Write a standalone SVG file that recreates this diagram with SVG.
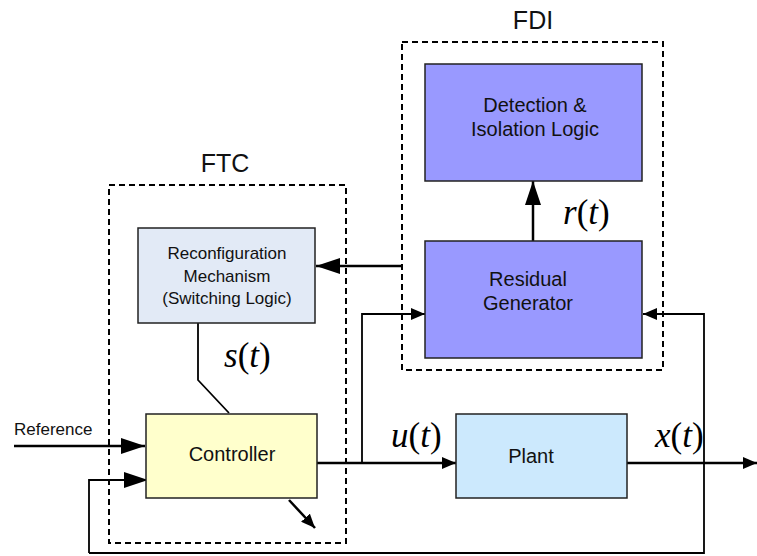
<svg xmlns="http://www.w3.org/2000/svg" width="757" height="556" viewBox="0 0 757 556">
<style>
.box{stroke:#222;stroke-width:1.5}
.dash{fill:none;stroke:#000;stroke-width:2;stroke-dasharray:6,4}
.ln{fill:none;stroke:#000;stroke-width:2.5}
.thin{fill:none;stroke:#000;stroke-width:1.8}
.lbl{font-family:"Liberation Sans",Arial,sans-serif;fill:#111;text-anchor:middle}
.math{font-family:"Liberation Serif","Times New Roman",serif;font-size:35px;fill:#000}
.it{font-style:italic}
</style>
<defs>
<marker id="ah" viewBox="0 0 10 10" refX="10" refY="5" markerWidth="24" markerHeight="16" markerUnits="userSpaceOnUse" orient="auto" preserveAspectRatio="none"><path d="M0,0 L10,5 L0,10 z" fill="#000"/></marker>
<marker id="ahs" viewBox="0 0 10 10" refX="10" refY="5" markerWidth="14" markerHeight="12" markerUnits="userSpaceOnUse" orient="auto" preserveAspectRatio="none"><path d="M0,0 L10,5 L0,10 z" fill="#000"/></marker>
</defs>
<g id="ftc-group">
<rect class="dash" x="109" y="185" width="237" height="358"/>
<text class="lbl" x="225" y="172" font-size="25">FTC</text>
</g>
<g id="fdi-group">
<rect class="dash" x="402" y="42" width="261" height="328"/>
<text class="lbl" x="533" y="29" font-size="25">FDI</text>
</g>
<g id="connectors">
<line class="ln" x1="14" y1="446" x2="145" y2="446" marker-end="url(#ah)"/>
<polyline class="thin" points="89,553 89,480 148,480" marker-end="url(#ah)"/>
<polyline class="thin" points="89,553 704,553 704,314 643,314" marker-end="url(#ahs)"/>
<line class="ln" x1="317" y1="463" x2="456" y2="463" marker-end="url(#ahs)"/>
<polyline class="thin" points="362,463 362,314 425,314" marker-end="url(#ahs)"/>
<line class="ln" x1="627" y1="463" x2="757" y2="463" marker-end="url(#ahs)"/>
<line class="ln" x1="533" y1="241" x2="533" y2="181" marker-end="url(#ah)"/>
<line class="ln" x1="401" y1="266" x2="316" y2="266" marker-end="url(#ah)"/>
<polyline class="thin" points="198,323 198,380 229,413"/>
<line class="ln" x1="289" y1="500" x2="315" y2="528" marker-end="url(#ahs)"/>
</g>
<g id="reconfig">
<rect class="box" x="138" y="228" width="177" height="95" fill="#e2eaf6"/>
<text class="lbl" font-size="17"><tspan x="227" y="259">Reconfiguration</tspan><tspan x="227" y="282">Mechanism</tspan><tspan x="227" y="304">(Switching Logic)</tspan></text>
</g>
<g id="controller">
<rect class="box" x="146" y="414" width="171" height="84" fill="#ffffcc"/>
<text class="lbl" x="232" y="461" font-size="20">Controller</text>
</g>
<g id="plant">
<rect class="box" x="456" y="414" width="171" height="84" fill="#cce9fd"/>
<text class="lbl" x="531" y="463" font-size="20">Plant</text>
</g>
<g id="detection">
<rect class="box" x="425" y="64" width="217" height="117" fill="#9999ff"/>
<text class="lbl" font-size="20"><tspan x="535" y="112">Detection &amp;</tspan><tspan x="535" y="136">Isolation Logic</tspan></text>
</g>
<g id="residual">
<rect class="box" x="425" y="241" width="217" height="117" fill="#9999ff"/>
<text class="lbl" font-size="20"><tspan x="528" y="286">Residual</tspan><tspan x="528" y="310">Generator</tspan></text>
</g>
<g id="labels">
<text class="math" x="224" y="367" font-size="38"><tspan class="it">s</tspan>(<tspan class="it">t</tspan>)</text>
<text class="math" x="563" y="224"><tspan class="it">r</tspan>(<tspan class="it">t</tspan>)</text>
<text class="math" x="391" y="447"><tspan class="it">u</tspan>(<tspan class="it">t</tspan>)</text>
<text class="math" x="655" y="447"><tspan class="it">x</tspan>(<tspan class="it">t</tspan>)</text>
<text x="14" y="435" font-family="Liberation Sans,Arial,sans-serif" font-size="17" fill="#111">Reference</text>
</g>
</svg>
